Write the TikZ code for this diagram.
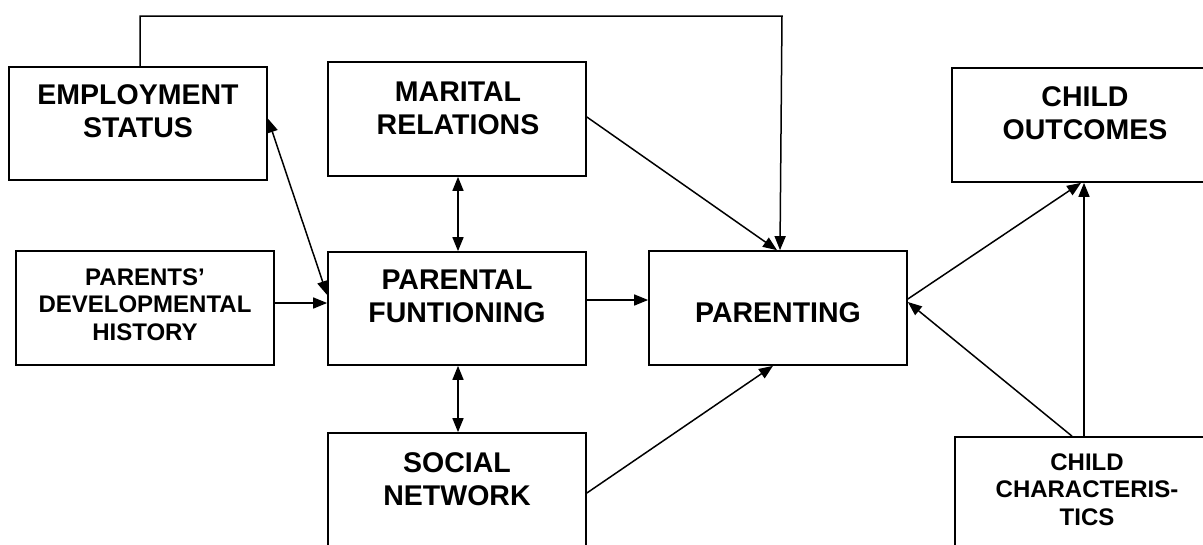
\documentclass[tikz,border=0pt]{standalone}
\usepackage{fontspec}
\setmainfont{Liberation Sans}
\usetikzlibrary{arrows.meta}
\tikzset{
  box/.style={draw, line width=1.7pt, rectangle, inner sep=0pt},
  bigtxt/.style={align=center, inner sep=0pt, font=\bfseries\fontsize{28.5}{33}\selectfont},
  smalltxt/.style={align=center, inner sep=0pt, font=\bfseries\fontsize{24}{27.5}\selectfont},
  conn/.style={line width=1.5pt, -{Triangle[length=14pt,width=11pt]}},
  biconn/.style={line width=1.5pt, {Triangle[length=14pt,width=11pt]}-{Triangle[length=14pt,width=11pt]}}
}
\begin{document}
\begin{tikzpicture}[x=1pt,y=-1pt]
\useasboundingbox (0,0) rectangle (1203,544);
\fill[white] (0,0) rectangle (1203,544);
\begin{scope}
\clip (0,0) rectangle (1203,544);
% boxes
\node[box, minimum width=258pt, minimum height=113pt] (emp) at (138,123.5) {};
\node[box, minimum width=258pt, minimum height=114pt] (mar) at (457,119) {};
\node[box, minimum width=266pt, minimum height=114pt] (out) at (1085,125) {};
\node[box, minimum width=258pt, minimum height=114pt] (hist) at (145,308) {};
\node[box, minimum width=258pt, minimum height=113pt] (func) at (457,308.5) {};
\node[box, minimum width=258pt, minimum height=114pt] (par) at (778,308) {};
\node[box, minimum width=258pt, minimum height=114pt] (soc) at (457,490) {};
\node[box, minimum width=264pt, minimum height=114pt] (chr) at (1087,494) {};
\end{scope}
% texts
\node[bigtxt] (empt) at (138,111.5) {EMPLOYMENT\\STATUS};
\node[bigtxt] (mart) at (458,108) {MARITAL\\RELATIONS};
\node[bigtxt] (outt) at (1085,113.5) {CHILD\\OUTCOMES};
\node[smalltxt] (histt) at (145,304.5) {PARENTS’\\DEVELOPMENTAL\\HISTORY};
\node[bigtxt] (funct) at (457,296.5) {PARENTAL\\FUNTIONING};
\node[bigtxt] (part) at (778,313) {PARENTING};
\node[bigtxt] (soct) at (457,479.5) {SOCIAL\\NETWORK};
\node[smalltxt] (chrt) at (1087,489.5) {CHILD\\CHARACTERIS-\\TICS};
% connectors
\coordinate (t1) at (140,16);
\coordinate (t2) at (782,16);
\draw[conn] ([xshift=2pt]emp.north) -- (t1) -- (t2) -- ([xshift=2pt]par.north);
\draw[conn] ([yshift=2pt]mar.east) -- ([xshift=-1pt]par.north);
\draw[biconn] ([yshift=5pt]emp.east) -- ([yshift=13.5pt]func.west);
\draw[conn] ([yshift=5pt]hist.east) -- ([yshift=5.5pt]func.west);
\draw[biconn] ([xshift=1pt]mar.south) -- ([xshift=1pt]func.north);
\draw[biconn] ([xshift=1pt]func.south) -- ([xshift=1pt]soc.north);
\draw[conn] ([yshift=8.5pt]func.east) -- ([yshift=8pt]par.west);
\draw[conn] ([yshift=-3pt]soc.east) -- ([xshift=-5pt]par.south);
\draw[conn] ([yshift=9pt]par.east) -- ([xshift=-4pt]out.south);
\draw[conn] ([xshift=-15pt]chr.north) -- ([yshift=6pt]par.east);
\draw[conn] ([xshift=-3pt]chr.north) -- ([xshift=-1pt]out.south);
\end{tikzpicture}
\end{document}
